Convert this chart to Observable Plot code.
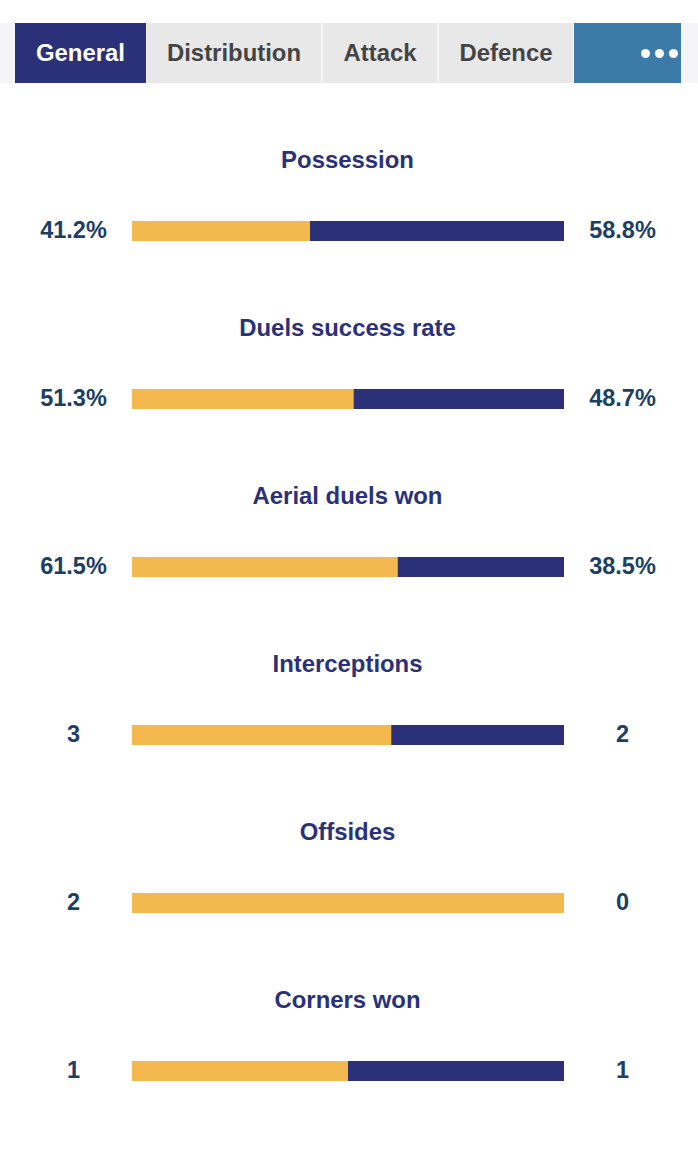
<!DOCTYPE html>
<html>
<head>
<meta charset="utf-8">
<script src="https://cdn.jsdelivr.net/npm/d3@7"></script>
<script src="https://cdn.jsdelivr.net/npm/@observablehq/plot@0.6"></script>
<style>
html,body{margin:0;padding:0;background:#fff;width:698px;height:1158px;overflow:hidden}
body{font-family:"Liberation Sans",Arial,sans-serif}
#tabs{position:relative;height:83px;width:698px}
#strip{position:absolute;left:0;top:23px;width:698px;height:60px;background:#f5f5f8}
.tab{position:absolute;top:23px;height:60px;display:flex;align-items:center;justify-content:center;font-weight:700;font-size:23.9px;color:#444;background:#e8e8e8}
.tab.active{background:#2a3179;color:#fff}
.tab.more{background:#3c7aa8;color:#fff;justify-content:flex-end;font-size:0;padding-right:3px;box-sizing:border-box}
.dot{width:9px;height:9px;border-radius:50%;background:#fff;margin-left:5px}
#chart svg{display:block}
</style>
</head>
<body>
<div id="tabs"><div id="strip"></div></div>
<div id="chart"></div>
<script>
const stats = ["Possession","Duels success rate","Aerial duels won","Interceptions","Offsides","Corners won"];
const homeValues = [41.2,51.3,61.5,3,2,1];
const awayValues = [58.8,48.7,38.5,2,0,1];
const homeLabels = ["41.2%","51.3%","61.5%","3","2","1"];
const awayLabels = ["58.8%","48.7%","38.5%","2","0","1"];
const tabNames = ["General","Distribution","Attack","Defence"];
const tabEdges = [[15,131],[147,174],[323,114],[439,134]];

const tabs = document.getElementById("tabs");
tabNames.forEach((n,i)=>{
  const d=document.createElement("div");
  d.className="tab"+(i===0?" active":"");
  d.textContent=n;
  d.style.left=tabEdges[i][0]+"px";
  d.style.width=tabEdges[i][1]+"px";
  tabs.appendChild(d);
});
const more=document.createElement("div");
more.className="tab more";
more.style.left="574px";more.style.width="107px";
for(let i=0;i<3;i++){const s=document.createElement("span");s.className="dot";more.appendChild(s);}
tabs.appendChild(more);

const rows = stats.map((s,i)=>({stat:s,home:homeValues[i],away:awayValues[i],
  share:homeValues[i]/(homeValues[i]+awayValues[i]),hl:homeLabels[i],al:awayLabels[i]}));
const font = {fontFamily:"Liberation Sans, Arial, sans-serif",fontWeight:700,fontSize:23.9};
const plot = Plot.plot({
  width:698,height:1075,
  margin:0,
  style:{background:"transparent"},
  x:{domain:[0,1],range:[132,564],axis:null},
  y:{type:"band",domain:stats,range:[64,1072],paddingInner:0.881,paddingOuter:0.4405,round:false,axis:null},
  marks:[
    Plot.barX(rows,{x1:0,x2:"share",y:"stat",fill:"#f3b94e"}),
    Plot.barX(rows.filter(d=>d.away>0),{x1:"share",x2:1,y:"stat",fill:"#2a3179"}),
    Plot.text(rows,{x:0.5,y:"stat",text:"stat",dx:-1,dy:-71,textAnchor:"middle",fill:"#2a3179",...font}),
    Plot.text(rows,{x:0,y:"stat",text:"hl",dx:-59,dy:-1,textAnchor:"middle",fill:"#1c3f66",...font,fontSize:23.5}),
    Plot.text(rows,{x:1,y:"stat",text:"al",dx:58,dy:-1,textAnchor:"middle",fill:"#1c3f66",...font,fontSize:23.5})
  ]
});
document.getElementById("chart").appendChild(plot);
</script>
</body>
</html>
